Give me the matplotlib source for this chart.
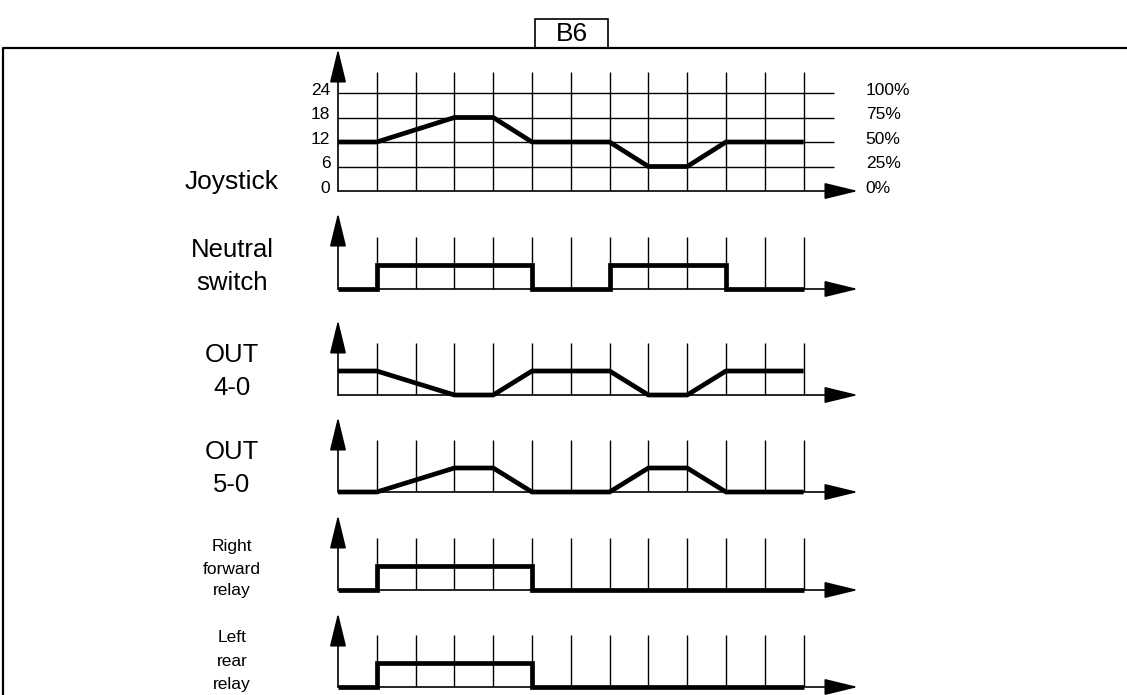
import matplotlib
matplotlib.use('Agg')
import matplotlib.pyplot as plt
from matplotlib.patches import Rectangle
from matplotlib.transforms import ScaledTranslation

plt.rcParams['font.family'] = ['Liberation Sans', 'DejaVu Sans']

# ---------------- data ----------------
time_marks = list(range(1, 13))          # vertical time-step marker lines

joy_t = [0, 1, 3, 4, 5, 7, 8, 9, 10, 12]
joy_v = [12, 12, 18, 18, 12, 12, 6, 6, 12, 12]
joy_levels = [0, 6, 12, 18, 24]
joy_level_labels = ['0', '6', '12', '18', '24']
joy_pct_labels = ['0%', '25%', '50%', '75%', '100%']

neutral_t = [0, 1, 5, 7, 10, 12]
neutral_v = [0, 1, 0, 1, 0, 0]

out4_t = [0, 1, 3, 4, 5, 7, 8, 9, 10, 12]
out4_v = [1, 1, 0, 0, 1, 1, 0, 0, 1, 1]

out5_t = [0, 1, 3, 4, 5, 7, 8, 9, 10, 12]
out5_v = [0, 0, 1, 1, 0, 0, 1, 1, 0, 0]

rf_relay_t = [0, 1, 5, 12]
rf_relay_v = [0, 1, 0, 0]

lr_relay_t = [0, 1, 5, 12]
lr_relay_v = [0, 1, 0, 0]

title_text = 'B6'
joy_label = ['Joystick']
neutral_label = ['Neutral', 'switch']
out4_label = ['OUT', '4-0']
out5_label = ['OUT', '5-0']
rf_label = ['Right', 'forward', 'relay']
lr_label = ['Left', 'rear', 'relay']

# ---------------- layout ----------------
W, H, DPI = 1127, 695, 100
fig = plt.figure(figsize=(W / DPI, H / DPI), dpi=DPI)

X0, X1 = 338, 858          # axis origin / arrow tip (pixels)
STEP = 38.8                # pixels per time step
XMAX = (X1 - X0) / STEP
SIG_LW = 3.4
GRID_LW = 1.0
AX_LW = 1.2

bg = fig.add_axes([0, 0, 1, 1])
bg.set_xlim(0, W)
bg.set_ylim(H, 0)
bg.axis('off')
bg.plot([3, 3, W], [H, 48, 48], color='black', lw=1.6, solid_capstyle='butt')
bg.add_patch(Rectangle((535, 19), 73, 29, fill=False, lw=1.2, edgecolor='black'))
bg.text(571.5, 34, title_text, ha='center', va='center', fontsize=19)


def px_axes(ytop, ybot):
    ax = fig.add_axes([X0 / W, 1 - ybot / H, (X1 - X0) / W, (ybot - ytop) / H])
    ax.patch.set_visible(False)
    for s in ax.spines.values():
        s.set_visible(False)
    ax.set_xticks([])
    ax.set_yticks([])
    return ax


def arrow(ax, xy):
    ax.annotate('', xy=xy, xytext=(0, 0), annotation_clip=False,
                arrowprops=dict(arrowstyle='-|>,head_length=1.4,head_width=0.34',
                                mutation_scale=15, lw=AX_LW, color='black',
                                shrinkA=0, shrinkB=0))


def panel(baseline, tip, ppu, line_top, t, v, steps, label, label_y, fs):
    ax = px_axes(tip, baseline)
    ytop = (baseline - tip) / ppu
    ax.set_xlim(0, XMAX)
    ax.set_ylim(0, ytop)
    ax.vlines(time_marks, 0, line_top, color='black', lw=GRID_LW)
    arrow(ax, (0, ytop))
    arrow(ax, (XMAX, 0))
    ax.plot(t, v, color='black', lw=SIG_LW, clip_on=False,
            drawstyle='steps-post' if steps else 'default',
            solid_joinstyle='miter', solid_capstyle='butt')
    for s, y in zip(label, label_y):
        bg.text(232, y, s, ha='center', va='center', fontsize=fs)
    return ax


# Joystick panel (with grid)
JPPU = 98 / 24.0
jax = panel(191, 49, JPPU, 29.1, joy_t, joy_v, False, joy_label, [182], 19)
jax.hlines(joy_levels[1:], 0, 12.78, color='black', lw=GRID_LW)
jax.set_yticks(joy_levels, joy_level_labels)
jax.tick_params(axis='y', length=0, pad=5.5, labelsize=12.5)
off = ScaledTranslation(0, 3 / 72, fig.dpi_scale_trans)
for lbl in jax.get_yticklabels():
    lbl.set_transform(lbl.get_transform() + off)
tw = jax.twinx()
tw.set_ylim(jax.get_ylim())
for s in tw.spines.values():
    s.set_visible(False)
tw.set_yticks(joy_levels, joy_pct_labels)
tw.tick_params(axis='y', length=0, pad=5.5, labelsize=12.5)
for lbl in tw.get_yticklabels():
    lbl.set_transform(lbl.get_transform() + off)

PPU = 24.0
panel(289, 213, PPU, 2.15, neutral_t, neutral_v, True, neutral_label, [250, 283], 18.5)
panel(395, 320, PPU, 2.15, out4_t, out4_v, False, out4_label, [355, 388], 18.5)
panel(492, 417, PPU, 2.15, out5_t, out5_v, False, out5_label, [452, 485], 18.5)
panel(590, 515, PPU, 2.15, rf_relay_t, rf_relay_v, True, rf_label, [547, 569, 591], 12.5)
panel(687, 613, PPU, 2.15, lr_relay_t, lr_relay_v, True, lr_label, [638, 662, 684], 12.5)

fig.savefig('out.png', dpi=DPI)
